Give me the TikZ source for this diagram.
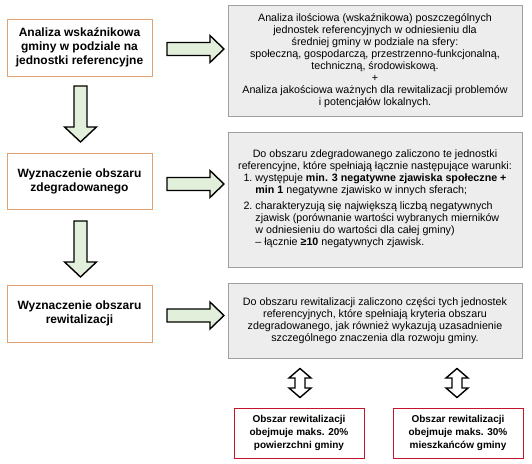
\documentclass[tikz,border=0pt]{standalone}
\usepackage{fontspec}
\setmainfont{Liberation Sans}
\usetikzlibrary{
    positioning,
    calc
}
\definecolor{boxOrange}{RGB}{226,160,112}
\definecolor{boxGray}{RGB}{237,237,237}
\definecolor{lineGray}{RGB}{160,160,160}
\definecolor{arrGreen}{RGB}{226,239,218}
\definecolor{boxRed}{RGB}{196,20,44}
\tikzset{
  stepbox/.style  = {draw=boxOrange, line width=0.9pt, fill=white,
                     minimum width=145pt, minimum height=57pt, align=center,
                     font=\fontsize{12}{14}\selectfont\bfseries},
  infobox/.style  = {draw=lineGray, line width=0.9pt, fill=boxGray,
                     minimum width=294pt, align=center, inner sep=2pt,
                     font=\fontsize{10.7}{12}\selectfont},
  limitbox/.style = {draw=boxRed, line width=0.9pt, minimum width=130pt,
                     minimum height=50pt, align=center,
                     font=\fontsize{10}{13}\selectfont\bfseries},
  arrline/.style  = {draw=black, line width=1.4pt, line join=miter},
  rblock/.pic     = {\path[arrline, fill=arrGreen]
                       (0,-6.5) -- (43,-6.5) -- (43,-13.5) -- (57,0)
                       -- (43,13.5) -- (43,6.5) -- (0,6.5) -- cycle;},
  dblock/.pic     = {\path[arrline, fill=arrGreen]
                       (-6.5,0) -- (-6.5,41) -- (-16,41) -- (0,56)
                       -- (16,41) -- (6.5,41) -- (6.5,0) -- cycle;},
  vdouble/.pic    = {\path[arrline, fill=white]
                       (0,-14.5) -- (11,-5) -- (5,-5) -- (5,5) -- (11,5)
                       -- (0,14.5) -- (-11,5) -- (-5,5) -- (-5,-5)
                       -- (-11,-5) -- cycle;}
}

\begin{document}
\begin{tikzpicture}[x=1pt, y=-1pt]
    \useasboundingbox (0,0) rectangle (532,463);

    % Left column: steps
    \node[stepbox] (analiza) at (79.5, 47.5)
      {Analiza wskaźnikowa\\gminy w podziale na\\jednostki referencyjne};
    \node[stepbox, minimum height=56pt] (zdeg) at (79.5, 181)
      {Wyznaczenie obszaru\\zdegradowanego};
    \node[stepbox] (rewit) at (79.5, 313.5)
      {Wyznaczenie obszaru\\rewitalizacji};

    % Right column: descriptions
    \node[infobox, minimum height=111pt] (analizaOpis) at (375, 60.5)
      {Analiza ilościowa (wskaźnikowa) poszczególnych\\
       jednostek referencyjnych w odniesieniu dla\\
       średniej gminy w podziale na sfery:\\
       społeczną, gospodarczą, przestrzenno-funkcjonalną,\\
       techniczną, środowiskową.\\
       +\\
       Analiza jakościowa ważnych dla rewitalizacji problemów\\
       i potencjałów lokalnych.};
    \node[infobox, minimum height=135pt] (zdegOpis) at (375, 199.5)
      {Do obszaru zdegradowanego zaliczono te jednostki\\
       referencyjne, które spełniają łącznie następujące warunki:\\
       \begin{tabular}[t]{@{}r@{\hspace{3pt}}l@{}}
         1. & występuje \textbf{min. 3 negatywne zjawiska społeczne +}\\
            & \textbf{min 1} negatywne zjawisko w innych sferach;\\[4pt]
         2. & charakteryzują się największą liczbą negatywnych\\
            & zjawisk (porównanie wartości wybranych mierników\\
            & w odniesieniu do wartości dla całej gminy)\\
            & – łącznie \textbf{≥10} negatywnych zjawisk.
       \end{tabular}};
    \node[infobox, minimum height=75pt] (rewitOpis) at (375, 320.5)
      {Do obszaru rewitalizacji zaliczono części tych jednostek\\
       referencyjnych, które spełniają kryteria obszaru\\
       zdegradowanego, jak również wykazują uzasadnienie\\
       szczególnego znaczenia dla rozwoju gminy.};

    % Limits
    \node[limitbox] (limPow) at (299, 433)
      {Obszar rewitalizacji\\obejmuje maks. 20\%\\powierzchni gminy};
    \node[limitbox] (limMiesz) at (458, 433)
      {Obszar rewitalizacji\\obejmuje maks. 30\%\\mieszkańców gminy};

    % Block arrows
    \pic (a1) at ($(analiza.east)+(14.5,1.5)$) {rblock};
    \pic (a2) at ($(zdeg.east)+(14.5,3)$) {rblock};
    \pic (a3) at ($(rewit.east)+(14.5,2)$) {rblock};
    \pic (d1) at ($(analiza.south)+(1,9.5)$) {dblock};
    \pic (d2) at ($(zdeg.south)+(1,11.5)$) {dblock};
    \pic (b1) at ($(rewitOpis.south -| limPow.north)!0.5!(limPow.north)+(1,0)$) {vdouble};
    \pic (b2) at ($(rewitOpis.south -| limMiesz.north)!0.5!(limMiesz.north)+(-1,0)$) {vdouble};
  \end{tikzpicture}
\end{document}
